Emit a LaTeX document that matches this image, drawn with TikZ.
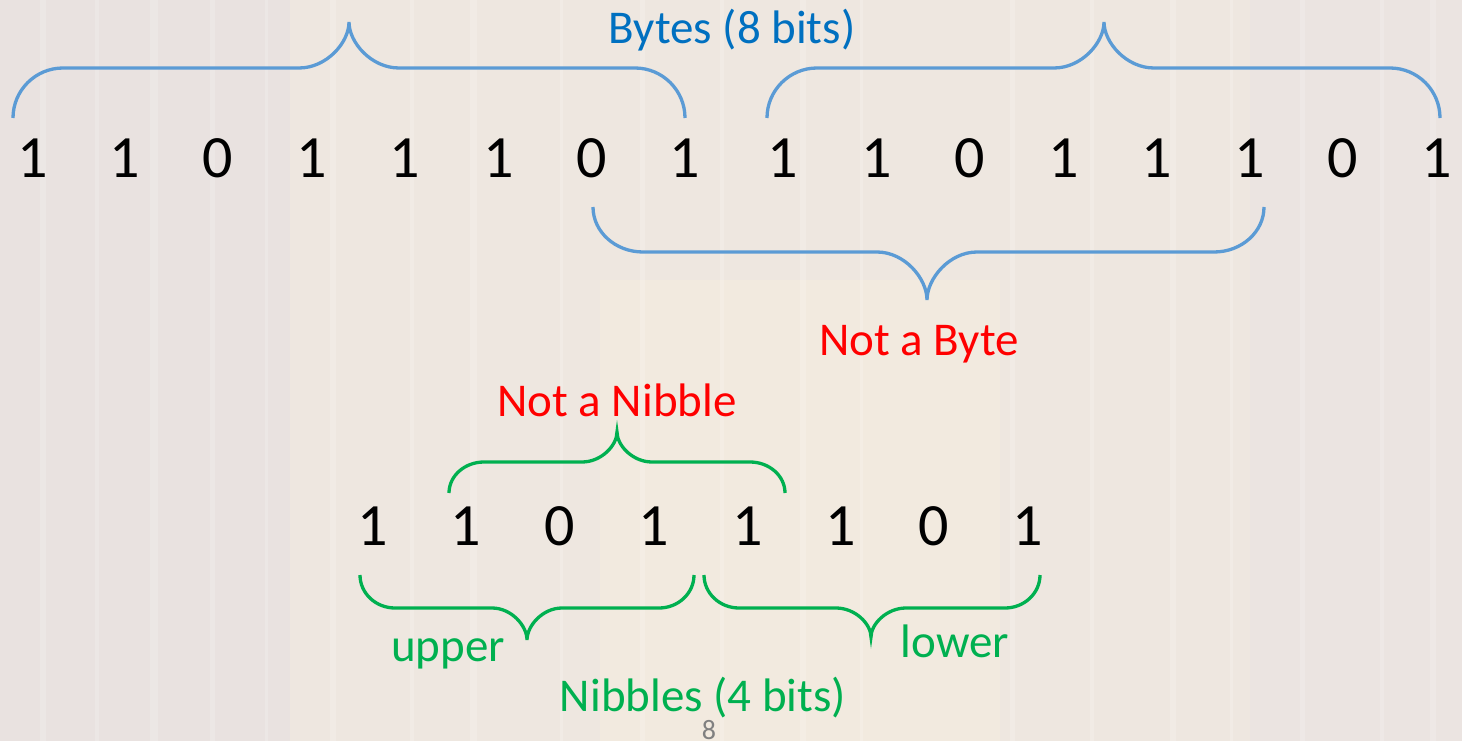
\documentclass[tikz,border=0pt]{standalone}
\usepackage{fontspec}
\setmainfont{Carlito}
\definecolor{bg}{HTML}{EEE7E0}
\definecolor{bgA}{HTML}{E9E2E0}
\definecolor{bgB}{HTML}{F4ECDF}
\definecolor{bgC}{HTML}{EBE4E2}
\definecolor{bline}{HTML}{5B9BD5}
\definecolor{btext}{HTML}{0070C0}
\definecolor{gline}{HTML}{00B050}
\definecolor{rtext}{HTML}{FF0000}
\newcommand\obrace[8]{%
 \pgfmathsetmacro\bya{#5+0.552*(#6-#5)}%
 \pgfmathsetmacro\byc{#6+0.552*(#7-#6)}%
 \draw[#1] (#2,#5) .. controls (#2,\bya) and ({#2+0.448*#8},#6) .. ({#2+#8},#6)
   -- ({#4-#8},#6) .. controls ({#4-0.448*#8},#6) and (#4,\byc) .. (#4,#7)
   .. controls (#4,\byc) and ({#4+0.448*#8},#6) .. ({#4+#8},#6)
   -- ({#3-#8},#6) .. controls ({#3-0.448*#8},#6) and (#3,\bya) .. (#3,#5);
}
\tikzset{
  bit/.style={anchor=base, inner sep=0pt, font=\fontsize{60}{72}\selectfont},
  lbl/.style={anchor=base, inner sep=0pt, font=\fontsize{47}{56}\selectfont},
  bluebrace/.style={bline, line width=3.3pt},
  greenbrace/.style={gline, line width=3.3pt},
}
\begin{document}
\begin{tikzpicture}[x=1pt,y=-1pt]
\fill[bg] (0,0) rectangle (1462,741);
\useasboundingbox (0,0) rectangle (1462,741);
% faint background texture
\fill[bgA] (0,0) rectangle (290,741);
\fill[bgC, opacity=0.8] (1250,0) rectangle (1462,741);
\fill[bgB, opacity=0.7] (600,280) rectangle (1000,741);
\foreach \sx/\sw in {40/6,95/4,150/8,210/5,265/3,330/6,410/4,470/7,560/3,640/5,720/4,800/6,860/3,1010/5,1090/4,1170/6,1230/3,1300/5,1380/4,1430/6}{
  \fill[white, opacity=0.18] (\sx,0) rectangle (\sx+\sw,741);
}
% top row
\foreach \i/\x/\d in {1/33/1,2/125/1,3/218/0,4/312/1,5/405/1,6/499/1,7/592/0,8/685/1,
                      9/783/1,10/877/1,11/970/0,12/1064/1,13/1157/1,14/1250/1,15/1343/0,16/1437/1}{
  \node[bit] (t\i) at (\x,178) {\d};
}
% bottom row
\foreach \i/\x/\d in {1/373/1,2/466/1,3/560/0,4/654/1,5/748/1,6/841/1,7/934/0,8/1028/1}{
  \node[bit] (b\i) at (\x,545) {\d};
}
% blue braces
\obrace{bluebrace}{13}{685}{349}{118}{68}{22}{50}
\obrace{bluebrace}{767}{1440}{1104}{118}{68}{22}{50}
\obrace{bluebrace}{593}{1264}{927}{207}{252}{300}{50}
% green braces
\obrace{greenbrace}{449}{785}{617}{493}{462}{432}{35}
\obrace{greenbrace}{360}{694}{527}{575}{608}{640}{35}
\obrace{greenbrace}{704}{1040}{871}{575}{608}{637}{35}
% labels
\node[lbl, text=btext] (bytes) at (732,44) {Bytes (8 bits)};
\node[lbl, text=rtext] (notbyte) at (919,355) {Not a Byte};
\node[lbl, text=rtext] (notnib) at (617,416) {Not a Nibble};
\node[lbl, text=gline] (upper) at (448,661) {upper};
\node[lbl, text=gline] (lower) at (955,657) {lower};
\node[lbl, text=gline] (nibbles) at (703,711) {Nibbles (4 bits)};
\node[anchor=base, inner sep=0pt, text=gray, font=\fontsize{28}{34}\selectfont] (page) at (709,739) {8};
\end{tikzpicture}
\end{document}
